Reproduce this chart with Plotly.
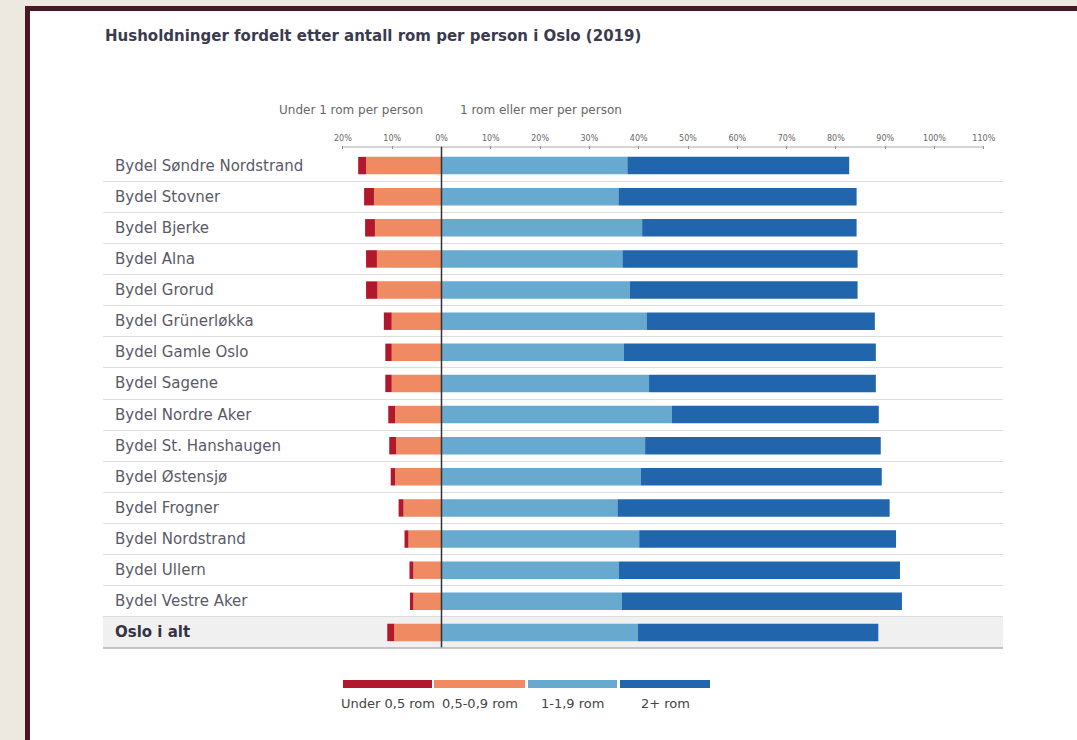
import plotly.graph_objects as go

categories = ["Bydel Søndre Nordstrand", "Bydel Stovner", "Bydel Bjerke", "Bydel Alna", "Bydel Grorud",
              "Bydel Grünerløkka", "Bydel Gamle Oslo", "Bydel Sagene", "Bydel Nordre Aker",
              "Bydel St. Hanshaugen", "Bydel Østensjø", "Bydel Frogner", "Bydel Nordstrand",
              "Bydel Ullern", "Bydel Vestre Aker", "Oslo i alt"]
under_05 = [1.6, 2.0, 2.0, 2.2, 2.3, 1.6, 1.3, 1.3, 1.4, 1.4, 0.9, 1.0, 0.8, 0.8, 0.7, 1.4]
r05_09 = [15.3, 13.7, 13.5, 13.1, 13.0, 10.1, 10.1, 10.1, 9.4, 9.2, 9.4, 7.7, 6.7, 5.7, 5.7, 9.6]
r1_19 = [37.7, 35.9, 40.7, 36.7, 38.2, 41.6, 37.0, 42.1, 46.7, 41.3, 40.4, 35.7, 40.1, 36.0, 36.6, 39.8]
r2plus = [45.0, 48.3, 43.5, 47.7, 46.2, 46.3, 51.1, 46.0, 42.0, 47.8, 48.9, 55.2, 52.1, 57.0, 56.8, 48.8]

series_names = ["Under 0,5 rom", "0,5-0,9 rom", "1-1,9 rom", "2+ rom"]
colors = ["#b2182b", "#ef8a62", "#67a9cf", "#2166ac"]

tick_vals = [-20, -10, 0, 10, 20, 30, 40, 50, 60, 70, 80, 90, 100, 110]
tick_text = ["20%", "10%", "0%", "10%", "20%", "30%", "40%", "50%", "60%", "70%", "80%", "90%", "100%", "110%"]

title_text = "Husholdninger fordelt etter antall rom per person i Oslo (2019)"
header_left = "Under 1 rom per person"
header_right = "1 rom eller mer per person"

# layout geometry (pixels)
W, H = 1077, 740
L, R, T, B = 103, 74, 150, 92
PW, PH = W - L - R, H - T - B
BG = "#ede9e0"


def px(x):
    return (x - L) / PW


def py(y):
    return (H - B - y) / PH


FONT = "DejaVu Sans"
fig = go.Figure()
fig.add_trace(go.Bar(y=categories, x=[-v for v in r05_09], orientation="h", name=series_names[1],
                     marker=dict(color=colors[1], line=dict(width=0))))
fig.add_trace(go.Bar(y=categories, x=[-v for v in under_05], orientation="h", name=series_names[0],
                     marker=dict(color=colors[0], line=dict(width=0))))
fig.add_trace(go.Bar(y=categories, x=r1_19, orientation="h", name=series_names[2],
                     marker=dict(color=colors[2], line=dict(width=0))))
fig.add_trace(go.Bar(y=categories, x=r2plus, orientation="h", name=series_names[3],
                     marker=dict(color=colors[3], line=dict(width=0))))

x0_px, scale = 441.5, 4.93
xmin = (L - x0_px) / scale
xmax = (W - R - x0_px) / scale

shapes = []
# outer frame
shapes.append(dict(type="rect", xref="paper", yref="paper", x0=px(27.5), x1=px(1120), y0=py(8.5), y1=py(780),
                   fillcolor="white", line=dict(color="#4a1822", width=5), layer="below"))
# Oslo i alt band
shapes.append(dict(type="rect", xref="paper", yref="y", x0=0, x1=1, y0=len(categories) - 1.5,
                   y1=len(categories) - 0.5, fillcolor="#f0f0f0", line=dict(width=0), layer="below"))
# top axis line
shapes.append(dict(type="line", xref="x", yref="paper", x0=tick_vals[0], x1=tick_vals[-1], y0=py(147), y1=py(147),
                   line=dict(color="#aaaaaa", width=1)))
# zero line
shapes.append(dict(type="line", xref="x", yref="paper", x0=0, x1=0, y0=py(147), y1=0,
                   line=dict(color="#333333", width=1.5), layer="above"))
# bottom line
shapes.append(dict(type="line", xref="paper", yref="paper", x0=0, x1=1, y0=0, y1=0,
                   line=dict(color="#b5b5b5", width=1.5)))

annotations = []
annotations.append(dict(text=title_text, xref="paper", yref="paper", x=0, y=py(36), xanchor="left",
                        yanchor="middle", showarrow=False,
                        font=dict(family=FONT, size=15, color="#3b3b4f", weight=700)))
annotations.append(dict(text=header_left, xref="x", yref="paper", x=-3.3, y=py(110), xanchor="right",
                        yanchor="middle", showarrow=False, font=dict(family=FONT, size=12, color="#666666")))
annotations.append(dict(text=header_right, xref="x", yref="paper", x=3.3, y=py(110), xanchor="left",
                        yanchor="middle", showarrow=False, font=dict(family=FONT, size=12, color="#666666")))
for i, c in enumerate(categories):
    bold = c == "Oslo i alt"
    annotations.append(dict(text=c, xref="paper", yref="y", x=px(113), y=c, xanchor="left", yanchor="middle",
                            showarrow=False,
                            font=dict(family=FONT, size=15, color="#333344" if bold else "#5a5a66",
                                      weight=700 if bold else 400)))

# custom legend
leg_x = [(343, 432), (434, 525), (528, 617), (620, 710)]
leg_order = [0, 1, 2, 3]
for (a, b), k in zip(leg_x, leg_order):
    shapes.append(dict(type="line", xref="paper", yref="paper", x0=px(a), x1=px(b), y0=py(684), y1=py(684),
                       line=dict(color=colors[k], width=8)))
    annotations.append(dict(text=series_names[k], xref="paper", yref="paper", x=px((a + b) / 2), y=py(703),
                            xanchor="center", yanchor="middle", showarrow=False,
                            font=dict(family=FONT, size=13, color="#444444")))

fig.update_layout(
    width=W, height=H,
    margin=dict(l=L, r=R, t=T, b=B, pad=0),
    paper_bgcolor=BG,
    plot_bgcolor="rgba(0,0,0,0)",
    barmode="relative",
    bargap=0.44,
    showlegend=False,
    shapes=shapes,
    annotations=annotations,
    xaxis=dict(range=[xmin, xmax], side="top", tickvals=tick_vals, ticktext=tick_text,
               showgrid=False, zeroline=False, showline=False, ticks="outside", ticklen=3,
               tickcolor="#888888", tickfont=dict(family=FONT, size=8, color="#666666"),
               ticklabelstandoff=2, fixedrange=True),
    yaxis=dict(autorange="reversed", showticklabels=False, ticks="", showgrid=True,
               gridcolor="#dddddd", gridwidth=1, tickson="boundaries", showline=False, zeroline=False),
)

fig.write_html("out.html", config={"displayModeBar": False},
               post_script="document.body.style.margin='0';document.body.style.background='" + BG + "';"
                           "document.body.style.overflow='hidden';")
